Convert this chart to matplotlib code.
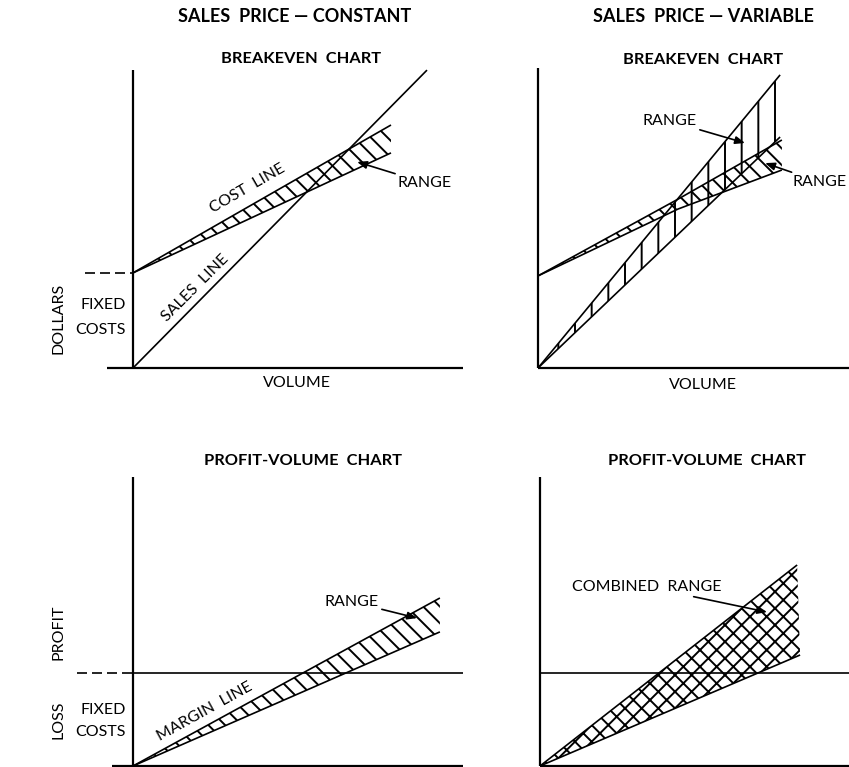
# -*- coding: utf-8 -*-

import matplotlib
matplotlib.use("Agg")
import matplotlib.pyplot as plt

plt.rcParams["font.family"] = ["Lato", "DejaVu Sans"]
plt.rcParams["hatch.linewidth"] = 1.4

W, H, S = 849, 767, 30.0   # figure pixels, pixels per chart unit

# breakeven chart, sales price constant (volume, dollars)
bc_fixed = 3.17
bc_sales_x = [0, 9.8]
bc_sales_y = [0, 9.93]
bc_cost_x = [0, 8.6]
bc_cost_hi = [bc_fixed, 8.1]
bc_cost_lo = [bc_fixed, 7.17]

# breakeven chart, sales price variable
bv_fixed = 3.07
bv_sales_x = [0, 8.07]
bv_sales_hi = [0, 9.77]
bv_sales_lo = [0, 7.7]
bv_cost_x = [0, 4.67, 8.13]
bv_cost_hi = [bv_fixed, 5.63, 7.6]
bv_cost_lo = [bv_fixed, 5.3, 6.6]

# profit-volume chart, constant
pc_fixed = 3.1
pc_x = [0, 10.23]
pc_margin_hi = [0, 5.6]
pc_margin_lo = [0, 4.47]

# profit-volume chart, variable (combined range outline)
pv_fixed = 3.1
pv_x = [0, 8.57, 8.67]
pv_y = [0, 6.7, 3.7]

opline = {"color": "black", "linewidth": 1.2, "solid_capstyle": "butt"}
opaxis = {"color": "black", "linewidth": 1.6, "solid_capstyle": "butt"}
opbold = {"fontsize": 11.8, "fontweight": "bold", "ha": "center", "va": "center"}
oplab = {"fontsize": 11.5, "ha": "center", "va": "center"}
oparrow = {"arrowstyle": "-|>,head_length=0.5,head_width=0.2", "color": "black", "lw": 1.2,
           "shrinkA": 0, "shrinkB": 0}


def panel(fig, ox, oy):
    # one axes per chart, data origin at pixel (ox, oy)
    ax = fig.add_axes([(ox - 4 * S) / W, 1 - (oy + 1.5 * S) / H, 15 * S / W, 13.7 * S / H])
    ax.set_xlim(-4, 11)
    ax.set_ylim(-1.5, 12.2)
    ax.axis("off")
    ax.patch.set_alpha(0)
    return ax


def arrow(ax, text, xytext, xy, ha="center"):
    ax.annotate(text, xy=xy, xytext=xytext, ha=ha, va="center", fontsize=11.5,
                arrowprops=oparrow)


def band(ax, x, lo, hi, hatch):
    ax.fill_between(x, lo, hi, facecolor="none", edgecolor="black", linewidth=0, hatch=hatch)
    ax.plot(x, hi, **opline)
    ax.plot(x, lo, **opline)


fig = plt.figure(figsize=(W / 100, H / 100), dpi=100)

# ---- top left
ax = panel(fig, 133, 368)
ax.plot([0, 0], [0, 9.93], **opaxis)
ax.plot([-0.87, 11.07], [0, 0], **opaxis)
ax.plot([-1.6, 0], [bc_fixed, bc_fixed], color="black", lw=1.2, dashes=(6, 3))
band(ax, bc_cost_x, bc_cost_lo, bc_cost_hi, "\\\\")
ax.plot(bc_sales_x, bc_sales_y, **opline)
ax.text(5.4, 11.7, "SALES  PRICE — CONSTANT", **{**opbold, "fontsize": 13})
ax.text(5.6, 10.3, "BREAKEVEN  CHART", **opbold)
ax.text(3.83, 6.0, "COST  LINE", rotation=30, **oplab)
ax.text(2.07, 2.67, "SALES  LINE", rotation=45, **oplab)
ax.text(-2.5, 1.65, "DOLLARS", rotation=90, **oplab)
ax.text(-1.0, 2.1, "FIXED", **oplab)
ax.text(-1.1, 1.27, "COSTS", **oplab)
ax.text(5.47, -0.5, "VOLUME", **oplab)
arrow(ax, "RANGE", (8.83, 6.17), (7.47, 6.87), ha="left")

# ---- top right
ax = panel(fig, 538, 368)
ax.plot([0, 0], [0, 10.0], **opaxis)
ax.plot([0, 10.4], [0, 0], **opaxis)
band(ax, bv_sales_x, bv_sales_lo, bv_sales_hi, "|")
band(ax, bv_cost_x, bv_cost_lo, bv_cost_hi, "\\\\")
ax.text(5.5, 11.7, "SALES  PRICE — VARIABLE", **{**opbold, "fontsize": 13})
ax.text(5.5, 10.27, "BREAKEVEN  CHART", **opbold)
ax.text(5.5, -0.57, "VOLUME", **oplab)
arrow(ax, "RANGE", (4.4, 8.23), (6.9, 7.5))
arrow(ax, "RANGE", (8.5, 6.2), (7.57, 6.83), ha="left")

# ---- bottom left
ax = panel(fig, 133, 766)
ax.plot([0, 0], [0, 9.63], **opaxis)
ax.plot([-0.7, 11.13], [0, 0], **opaxis)
ax.plot([0, 11.13], [pc_fixed, pc_fixed], **opline)
ax.plot([-1.87, 0], [pc_fixed, pc_fixed], color="black", lw=1.2, dashes=(6, 3))
band(ax, pc_x, pc_margin_lo, pc_margin_hi, "\\\\")
ax.text(5.67, 10.17, "PROFIT-VOLUME  CHART", **opbold)
ax.text(2.4, 1.8, "MARGIN  LINE", rotation=29, **oplab)
ax.text(-2.5, 4.47, "PROFIT", rotation=90, **oplab)
ax.text(-2.5, 1.53, "LOSS", rotation=90, **oplab)
ax.text(-1.0, 1.87, "FIXED", **oplab)
ax.text(-1.1, 1.13, "COSTS", **oplab)
arrow(ax, "RANGE", (7.3, 5.47), (9.47, 4.93))

# ---- bottom right
ax = panel(fig, 540, 766)
ax.plot([0, 0], [0, 9.63], **opaxis)
ax.plot([0, 10.4], [0, 0], **opaxis)
ax.plot([0, 10.4], [pv_fixed, pv_fixed], **opline)
ax.fill(pv_x, pv_y, facecolor="none", edgecolor="black", linewidth=0, hatch="xx")
ax.plot(pv_x[:2], pv_y[:2], **opline)
ax.plot([pv_x[0], pv_x[2]], [pv_y[0], pv_y[2]], **opline)
ax.text(5.57, 10.17, "PROFIT-VOLUME  CHART", **opbold)
arrow(ax, "COMBINED  RANGE", (3.57, 5.97), (7.57, 5.13))

fig.savefig("out.png", dpi=100, facecolor="white")
